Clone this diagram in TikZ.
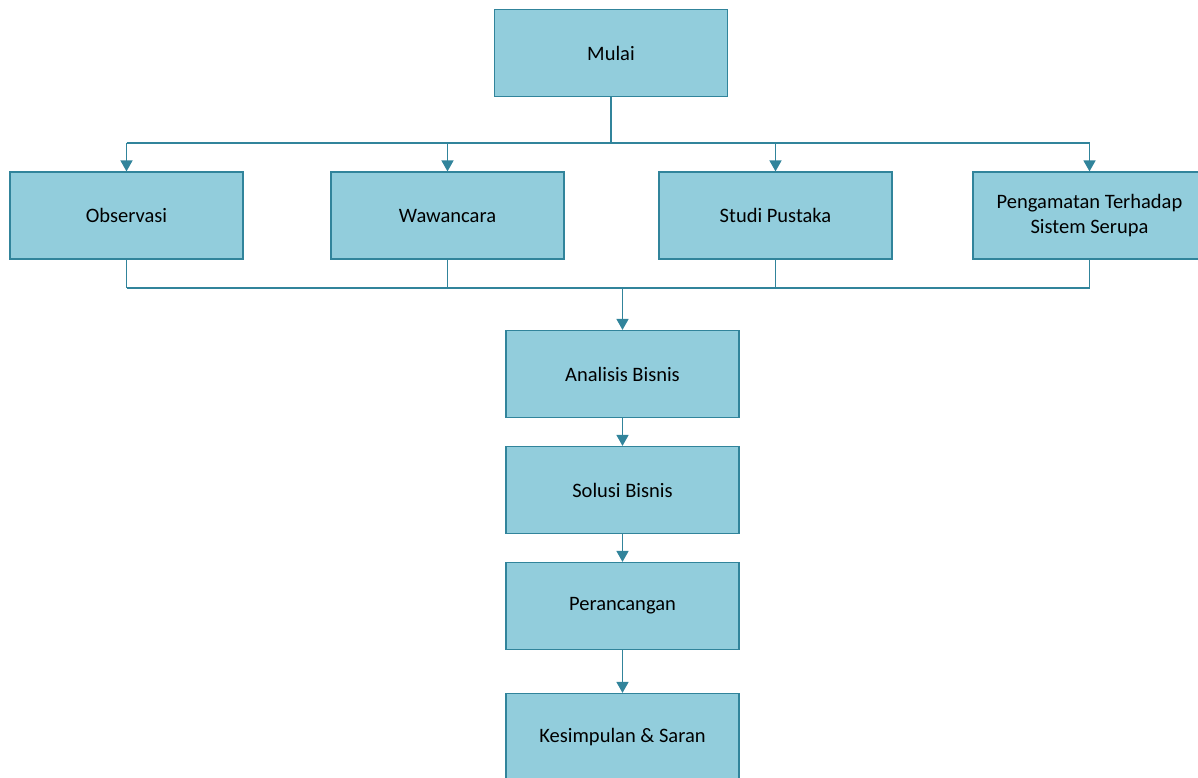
\documentclass[tikz,border=0pt]{standalone}
\usepackage{fontspec}
\setmainfont{Carlito}
\usetikzlibrary{arrows.meta}
\definecolor{boxfill}{HTML}{92CDDC}
\definecolor{boxline}{HTML}{31849B}
\begin{document}
\begin{tikzpicture}[x=1pt,y=-1pt,
  box/.style={draw=boxline,fill=boxfill,line width=1.2pt,minimum width=233pt,minimum height=87pt,inner sep=0pt,align=center,font=\fontsize{20.5}{25}\selectfont,text=black},
  conn/.style={draw=boxline,line width=1.6pt},
  arr/.style={conn,-{Triangle[width=12pt,length=11pt]}}]
\useasboundingbox (0,0) rectangle (1198,778);
\clip (0,0) rectangle (1198,778);
\node[box] (mulai) at (611,53) {Mulai};
\node[box] (obs) at (126.5,215.5) {Observasi};
\node[box] (waw) at (447.5,215.5) {Wawancara};
\node[box] (stu) at (775.5,215.5) {Studi Pustaka};
\node[box] (pen) at (1089.5,215.5) {Pengamatan Terhadap\\Sistem Serupa};
\node[box] (ana) at (622.5,374) {Analisis Bisnis};
\node[box] (sol) at (622.5,490) {Solusi Bisnis};
\node[box] (per) at (622.5,606) {Perancangan};
\node[box] (kes) at (622.5,737) {Kesimpulan \& Saran};
\coordinate (top) at (611,143);
\coordinate (bot) at (622.5,288);
\draw[conn] (mulai.south) -- (top);
\draw[conn] (obs.north |- top) -- (pen.north |- top);
\foreach \n in {obs,waw,stu,pen} {
  \draw[arr] (\n.north |- top) -- (\n.north);
  \draw[conn] (\n.south) -- (\n.south |- bot);
}
\draw[conn] (obs.south |- bot) -- (pen.south |- bot);
\draw[arr] (bot) -- (ana.north);
\draw[arr] (ana) -- (sol);
\draw[arr] (sol) -- (per);
\draw[arr] (per) -- (kes);
\end{tikzpicture}
\end{document}
